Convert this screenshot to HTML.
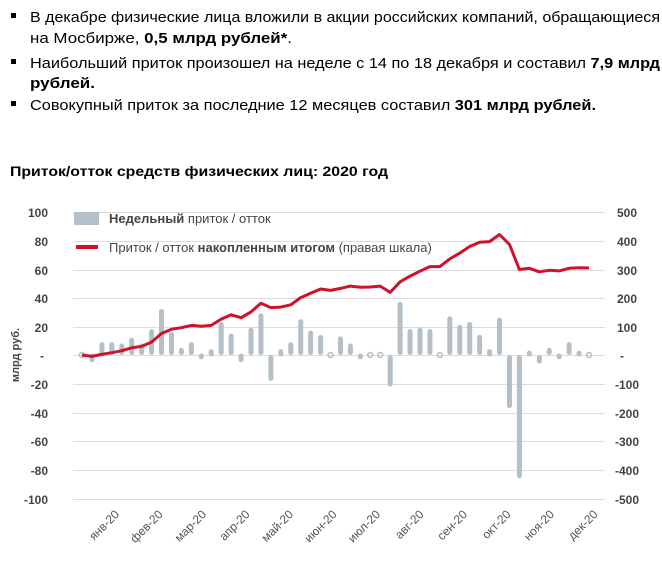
<!DOCTYPE html>
<html><head><meta charset="utf-8"><style>
body{margin:0;background:#fff;}
svg{display:block;font-family:"Liberation Sans",sans-serif;}
</style></head><body>
<svg width="662" height="565" viewBox="0 0 662 565" xmlns="http://www.w3.org/2000/svg">
<g font-size="15" fill="#000">
<rect x="11" y="13" width="5" height="5"/>
<text x="30" y="22" textLength="630" lengthAdjust="spacingAndGlyphs">В декабре физические лица вложили в акции российских компаний, обращающиеся</text>
<text x="30" y="43" textLength="262" lengthAdjust="spacingAndGlyphs">на Мосбирже, <tspan font-weight="bold">0,5 млрд рублей*</tspan>.</text>
<rect x="11" y="59" width="5" height="5"/>
<text x="30" y="68" textLength="630" lengthAdjust="spacingAndGlyphs">Наибольший приток произошел на неделе с 14 по 18 декабря и составил <tspan font-weight="bold">7,9 млрд</tspan></text>
<text x="30" y="88" font-weight="bold" textLength="65" lengthAdjust="spacingAndGlyphs">рублей.</text>
<rect x="11" y="101" width="5" height="5"/>
<text x="30" y="110" textLength="566" lengthAdjust="spacingAndGlyphs">Совокупный приток за последние 12 месяцев составил  <tspan font-weight="bold">301 млрд рублей.</tspan></text>
<text x="10" y="176" font-weight="bold" font-size="14" textLength="378" lengthAdjust="spacingAndGlyphs">Приток/отток средств физических лиц: 2020 год</text>
</g>
<g stroke="#dcdcdc" stroke-width="1">
<line x1="73" x2="605" y1="212.5" y2="212.5"/><line x1="73" x2="605" y1="241.5" y2="241.5"/>
<line x1="73" x2="605" y1="270.5" y2="270.5"/><line x1="73" x2="605" y1="298.5" y2="298.5"/>
<line x1="73" x2="605" y1="327.5" y2="327.5"/><line x1="73" x2="605" y1="355.5" y2="355.5"/>
<line x1="73" x2="605" y1="384.5" y2="384.5"/><line x1="73" x2="605" y1="413.5" y2="413.5"/>
<line x1="73" x2="605" y1="441.5" y2="441.5"/><line x1="73" x2="605" y1="470.5" y2="470.5"/>
<line x1="73" x2="605" y1="499.5" y2="499.5"/>
</g>
<g font-size="12" font-weight="bold" fill="#444" text-anchor="end">
<text x="48" y="217">100</text><text x="48" y="246">80</text><text x="48" y="275">60</text>
<text x="48" y="303">40</text><text x="48" y="332">20</text><text x="44" y="360">-</text>
<text x="48" y="389">-20</text><text x="48" y="418">-40</text><text x="48" y="446">-60</text>
<text x="48" y="475">-80</text><text x="48" y="504">-100</text>
</g>
<g font-size="12" font-weight="bold" fill="#444" text-anchor="start">
<text x="617" y="217">500</text><text x="617" y="246">400</text><text x="617" y="275">300</text>
<text x="617" y="303">200</text><text x="617" y="332">100</text><text x="620" y="360">-</text>
<text x="615" y="389">-100</text><text x="615" y="418">-200</text><text x="615" y="446">-300</text>
<text x="615" y="475">-400</text><text x="615" y="504">-500</text>
</g>
<text transform="translate(19,355) rotate(-90)" font-size="11" font-weight="bold" fill="#444" text-anchor="middle">млрд руб.</text>
<g id="bars" stroke="#b4bfc7" stroke-width="5" stroke-linecap="round" fill="none"></g>
<polyline id="ln" fill="none" stroke="#d0112b" stroke-width="3" stroke-linejoin="round"/>
<rect x="74" y="212" width="25" height="13" fill="#b4bfc7"/>
<text x="109" y="223" font-size="13" fill="#444"><tspan font-weight="bold">Недельный</tspan> приток / отток</text>
<line x1="76" x2="98" y1="247" y2="247" stroke="#d0112b" stroke-width="4"/>
<text x="109" y="252" font-size="13" fill="#444">Приток / отток <tspan font-weight="bold">накопленным итогом</tspan> (правая шкала)</text>
<g id="mon" font-size="12" fill="#555" text-anchor="end"></g>
</svg>
<script>
var bv=[1,-4,9,9,8,12,8,18,32,16,5,9,-2,3,23,15,-4,19,29,-18,3,9,25,17,14,0,13,8,-2,0,0,-22,37,18,19,18,0,27,21,23,14,3,26,-37,-86,2,-6,5,-2,9,2,0];
var lv=[0,-5,2,8,15,25,30,45,75,90,95,103,100,103,125,140,130,150,180,165,167,175,200,215,230,225,232,240,236,237,240,218,255,275,292,308,308,335,355,378,393,395,420,385,298,302,290,295,293,302,304,303];
var n=bv.length,step=(589-82)/(n-1),g=document.getElementById('bars'),pts=[];
var NS="http://www.w3.org/2000/svg";
for(var i=0;i<n;i++){var x=82+step*i;
 var h=bv[i]*1.435, s=h>0?1:-1, y=355-h;
 if(Math.abs(bv[i])<1.5){var c=document.createElementNS(NS,'circle');c.setAttribute('cx',x);c.setAttribute('cy',355);c.setAttribute('r',2.5);c.setAttribute('stroke-width',1.5);g.appendChild(c);}
 else{var l=document.createElementNS(NS,'line');l.setAttribute('x1',x);l.setAttribute('x2',x);
  var y1=355-s*2.5, y2=y+s*2.5; if(Math.abs(h)<6){y1=355-s*1;y2=y+s*1;}
  l.setAttribute('y1',y1);l.setAttribute('y2',y2);g.appendChild(l);}
 pts.push(x.toFixed(1)+','+(355-lv[i]*0.287).toFixed(1));}
document.getElementById('ln').setAttribute('points',pts.join(' '));
var m=['янв-20','фев-20','мар-20','апр-20','май-20','июн-20','июл-20','авг-20','сен-20','окт-20','ноя-20','дек-20'],mg=document.getElementById('mon');
for(var j=0;j<12;j++){var t=document.createElementNS(NS,'text');var xe=120+43.5*j;t.setAttribute('transform','translate('+xe+',515) rotate(-45)');t.textContent=m[j];mg.appendChild(t);}
</script>
</body></html>
